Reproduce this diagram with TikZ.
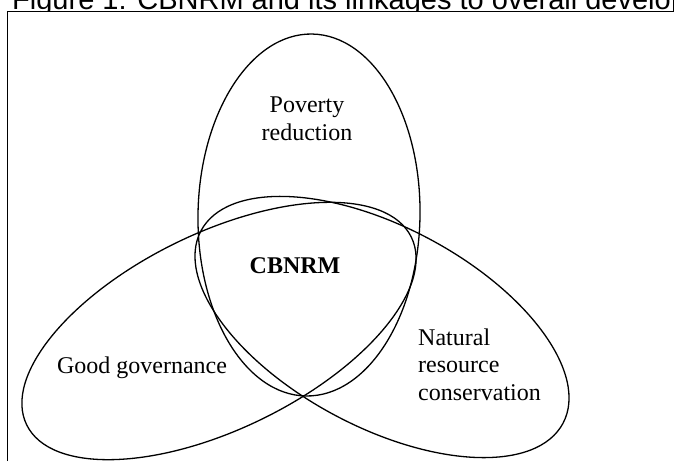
\documentclass[tikz,border=0pt]{standalone}
\usepackage{fontspec}
\setmainfont{Liberation Serif}
\newfontfamily\captionfont{Liberation Sans}

\begin{document}
\begin{tikzpicture}[x=1pt,y=-1pt,
	set/.style={draw,line width=1.3pt},
	txt/.style={inner sep=0pt,font=\fontsize{24}{27.5}\selectfont}]
\useasboundingbox (0,0) rectangle (677,461);
\clip (0,0) rectangle (677,461);
\begin{scope}
\clip (0,0) rectangle (672,11);
\node [anchor=base west,inner sep=0pt,font=\captionfont\fontsize{29}{33}\selectfont] (title) at (12,9.5) {Figure 1: CBNRM and its linkages to overall develo};
\end{scope}
\draw [line width=1pt] (7,461) -- (7,11) -- (673,11) -- (673,0);

\coordinate (pr) at (309,215);
\coordinate (gg) at (219,331);
\coordinate (nr) at (382,327);
\draw [set,rotate around={-1:(pr)}] (pr) ellipse [x radius=111pt,y radius=181pt];
\draw [set,rotate around={26:(gg)}] (gg) ellipse [x radius=214pt,y radius=98pt];
\draw [set,rotate around={-28:(nr)}] (nr) ellipse [x radius=205pt,y radius=100pt];

\node [txt,align=center,anchor=base] (poverty) at (307,140) {Poverty\\reduction};
\node [txt,anchor=base] (core) at (295,273) {\textbf{CBNRM}};
\node [txt,anchor=base] (governance) at (142,373) {Good governance};
\node [txt,align=left,anchor=base west] (nature) at (418,400) {Natural\\resource\\conservation};
\end{tikzpicture}
\end{document}
